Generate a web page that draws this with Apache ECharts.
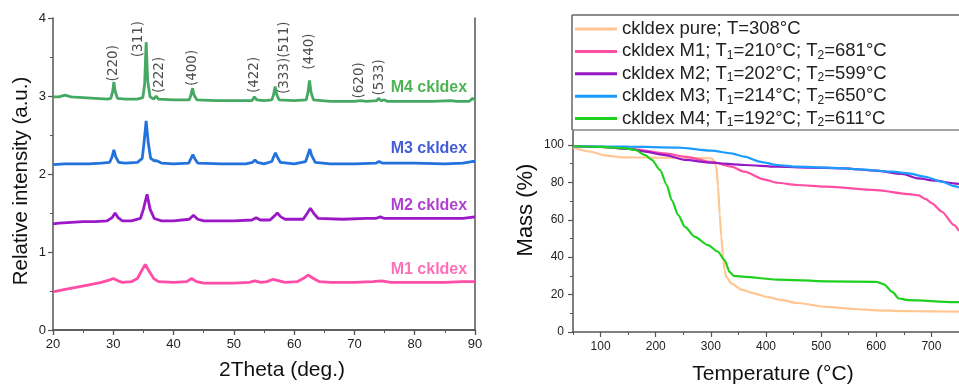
<!DOCTYPE html>
<html>
<head>
<meta charset="utf-8">
<script src="https://cdn.jsdelivr.net/npm/echarts@6/dist/echarts.min.js"></script>
<style>html,body{margin:0;padding:0;background:#fff}#c{width:959px;height:385px}</style>
</head>
<body>
<div id="c"></div>
<script>
// ---------- XRD data (2Theta, relative intensity) ----------
const xrdM4 = [[20,2.99],[21,2.99],[22,3.01],[23,2.99],[25,2.98],[27,2.97],[29,2.96],[29.6,2.97],[29.9,3.06],[30.1,3.18],[30.3,3.06],[30.7,2.97],[32,2.96],[34,2.96],[34.9,2.98],[35.2,3.15],[35.45,3.69],[35.7,3.2],[36.1,2.99],[36.7,2.96],[37.1,3.0],[37.5,2.96],[40,2.95],[42.6,2.95],[42.9,3.02],[43.15,3.1],[43.4,3.01],[43.9,2.95],[47,2.94],[50,2.94],[53,2.94],[53.4,2.99],[53.8,2.95],[55,2.94],[56.3,2.95],[56.6,3.02],[56.85,3.12],[57.1,3.02],[57.5,2.95],[60,2.94],[62.0,2.95],[62.3,3.05],[62.55,3.20],[62.8,3.05],[63.2,2.95],[66,2.93],[70,2.93],[71,2.94],[72,2.93],[73.7,2.94],[74.0,2.97],[74.4,2.94],[75,2.95],[75.5,2.93],[80,2.93],[83,2.93],[86,2.94],[87,2.93],[89,2.93],[89.6,2.97],[90,2.95]];
const xrdM3 = [[20,2.12],[22,2.13],[24,2.13],[26,2.13],[28,2.14],[29.4,2.15],[29.8,2.22],[30.1,2.31],[30.4,2.22],[30.9,2.15],[32,2.14],[34,2.15],[34.8,2.2],[35.1,2.4],[35.45,2.68],[35.8,2.4],[36.2,2.2],[36.8,2.17],[37.2,2.17],[38,2.14],[40,2.13],[42.5,2.14],[42.9,2.2],[43.2,2.25],[43.5,2.2],[44,2.14],[48,2.13],[52,2.13],[53.1,2.15],[53.5,2.18],[53.9,2.15],[55,2.13],[56.3,2.16],[56.6,2.22],[56.9,2.27],[57.2,2.22],[57.7,2.15],[60,2.13],[61.9,2.16],[62.3,2.25],[62.6,2.32],[62.9,2.24],[63.5,2.15],[66,2.13],[70,2.13],[73.6,2.14],[74.1,2.16],[74.6,2.14],[80,2.14],[85,2.13],[88,2.14],[89.5,2.16],[90,2.16]];
const xrdM2 = [[20,1.36],[21,1.37],[23,1.38],[25,1.39],[27,1.39],[29,1.40],[29.8,1.44],[30.3,1.50],[30.8,1.44],[31.5,1.40],[33,1.40],[34.5,1.43],[35.0,1.55],[35.6,1.74],[36.1,1.55],[36.8,1.43],[38,1.40],[40,1.40],[42.6,1.42],[43.3,1.47],[44,1.42],[45,1.40],[50,1.40],[53,1.41],[53.7,1.44],[54.4,1.41],[56,1.41],[56.7,1.46],[57.2,1.50],[57.8,1.45],[58.5,1.42],[61.5,1.42],[62.2,1.50],[62.7,1.56],[63.3,1.49],[64,1.43],[68,1.42],[72,1.43],[73.5,1.43],[74.3,1.45],[75,1.43],[80,1.43],[85,1.43],[88,1.43],[90,1.45]];
const xrdM1 = [[20,0.49],[22,0.52],[24,0.55],[26,0.58],[28,0.61],[29.3,0.64],[30,0.66],[30.8,0.63],[31.5,0.61],[33,0.62],[34,0.66],[34.7,0.76],[35.3,0.84],[35.9,0.76],[36.7,0.66],[37.5,0.62],[40,0.61],[42.2,0.62],[43,0.66],[43.8,0.62],[45,0.60],[50,0.60],[52.5,0.61],[53.5,0.63],[54.5,0.61],[55.5,0.62],[56.5,0.65],[57.5,0.63],[58.5,0.61],[60.5,0.62],[61.5,0.66],[62.3,0.705],[63.2,0.66],[64.2,0.62],[66,0.61],[70,0.61],[73,0.62],[74.5,0.63],[76,0.61],[80,0.61],[85,0.61],[88,0.62],[90,0.62]];
const xrdNames = ['M4 ckldex','M3 ckldex','M2 ckldex','M1 ckldex'];
const xrdNameAnchor = [[88.7,3.11],[88.7,2.33],[88.7,1.60],[88.7,0.77]];
const millerText = ['(220)','(311)','(222)','(400)','(422)','(333)(511)','(440)','(620)','(533)'];
const millerAnchor = [[30.1,3.42],[34.2,3.73],[37.6,3.27],[43.2,3.36],[53.4,3.27],[58.4,3.49],[62.5,3.57],[70.9,3.20],[74.1,3.24]];

// ---------- TGA data (temperature °C, mass %) ----------
const tgaNames = ['ckldex pure; T=308°C','ckldex M1; T1=210°C; T2=681°C','ckldex M2; T1=202°C; T2=599°C','ckldex M3; T1=214°C; T2=650°C','ckldex M4; T1=192°C; T2=611°C'];
const tgaPure = [[50,98.8],[80,96.5],[110,94.3],[140,93.4],[200,93.2],[260,93.1],[301,92.9],[306,91.5],[310,88.4],[313,78],[316,63],[319,51],[322,40],[325,33],[328,29.5],[337,26],[355,22.7],[380,20.5],[402,18.75],[430,17],[456,15.5],[510,13.4],[560,12.3],[600,11.6],[650,11.2],[700,11],[750,10.9]];
const tgaM1 = [[50,99.3],[100,98.9],[163,97.7],[217,95.5],[253,93.75],[301,91],[337,88.4],[361,85.7],[396,81.6],[420,79.8],[456,78.6],[510,77.7],[600,75.9],[659,73.75],[677,73],[690,71],[701,68.75],[719,64.3],[741,57.1],[750,54]];
const tgaM2 = [[50,99.3],[100,99],[152,97.9],[181,96.4],[217,94.6],[253,92],[301,90.5],[361,89.3],[420,88.4],[480,87.9],[540,87.5],[600,86.25],[647,84.5],[677,82.1],[707,80.9],[741,79.5],[750,79.2]];
const tgaM3 = [[50,99.3],[150,99.1],[241,98.6],[301,97],[337,95.5],[361,93.75],[390,91],[420,89.3],[456,88.4],[510,87.9],[570,87],[629,85.7],[659,84.8],[689,83],[719,80.4],[741,78],[750,77.3]];
const tgaM4 = [[50,99.3],[100,99],[145,98.2],[163,97.3],[181,94.6],[193,92],[208,86.6],[220,78.6],[229,70.5],[241,62.5],[253,56.25],[271,50.9],[295,46.4],[313,42.9],[325,38.4],[334,32.1],[341.5,30],[361,29.5],[420,28],[510,27.1],[600,26.8],[614,25.5],[629,21.4],[641,17.9],[659,17],[741,16],[750,16]];

const xTicksRight = [100,200,300,400,500,600,700];
const xMinorRight = [50,150,250,350,450,550,650,750];
const yTicksRight = [0,20,40,60,80,100];
const yMinorRight = [10,30,50,70,90];

const FONT = 'Liberation Sans, Arial, sans-serif';
const AX = '#555';
const chart = echarts.init(document.getElementById('c'));

const xrdColors = ['#45a964','#2272dd','#9a18c8','#ff4da8'];
const xrdLabelColors = ['#21a02b','#1535cc','#9a12c6','#ff4aa6'];
const tgaColors = ['#ffc691','#ff4fa3','#9418c4','#1c9cff','#1fd11f'];
const xrdSets = [xrdM4, xrdM3, xrdM2, xrdM1];
const tgaSets = [tgaPure, tgaM1, tgaM2, tgaM3, tgaM4];

const series = [];
xrdSets.forEach((d, i) => series.push({
  type: 'line', name: xrdNames[i], xAxisIndex: 0, yAxisIndex: 0, data: d,
  showSymbol: false, symbol: 'none', lineStyle: {color: xrdColors[i], width: 2.8}, z: 3
}));
series.push({
  type: 'scatter', xAxisIndex: 0, yAxisIndex: 0, symbolSize: 0, silent: true,
  data: xrdNameAnchor.map((p, i) => ({value: p, label: {color: xrdLabelColors[i], formatter: xrdNames[i]}})),
  label: {show: true, position: 'inside', align: 'right', verticalAlign: 'middle', fontSize: 16, fontWeight: 'bold', fontFamily: FONT}
});
series.push({
  type: 'scatter', xAxisIndex: 0, yAxisIndex: 0, symbolSize: 0, silent: true,
  data: millerAnchor.map((p, i) => ({value: p, label: {formatter: millerText[i]}})),
  label: {show: true, position: 'inside', rotate: 90, align: 'center', verticalAlign: 'middle', fontSize: 13.5, color: '#222', fontFamily: 'DejaVu Sans, sans-serif'}
});
tgaSets.forEach((d, i) => series.push({
  type: 'line', name: tgaNames[i], xAxisIndex: 2, yAxisIndex: 2, data: d,
  showSymbol: false, symbol: 'none', smooth: 0.25, smoothMonotone: 'x',
  lineStyle: {color: tgaColors[i], width: 2.2}, itemStyle: {color: tgaColors[i]}, z: 3 + (i === 0 ? 0 : 1)
}));

const lbl = {color: '#222', fontSize: 13, fontFamily: FONT};
const option = {
  backgroundColor: '#fff',
  animation: false,
  textStyle: {fontFamily: FONT},
  grid: [
    {left: 53, right: 484, top: 18, bottom: 55},
    {left: 573, right: -6, top: 130, bottom: 53}
  ],
  xAxis: [
    {gridIndex: 0, type: 'value', min: 20, max: 90, interval: 10, position: 'bottom',
     axisLine: {lineStyle: {color: AX, width: 1.5}}, axisTick: {length: 5, lineStyle: {color: AX, width: 1.2}},
     minorTick: {show: true, splitNumber: 2, length: 3, lineStyle: {color: AX, width: 1}},
     axisLabel: Object.assign({margin: 8}, lbl), splitLine: {show: false}},
    {gridIndex: 0, type: 'value', min: 20, max: 90, interval: 10, position: 'top',
     axisLine: {lineStyle: {color: AX, width: 1.5}}, axisTick: {inside: true, length: 5, lineStyle: {color: AX, width: 1.2}},
     minorTick: {show: true, splitNumber: 2, length: 3, lineStyle: {color: AX, width: 1}},
     axisLabel: {show: false}, splitLine: {show: false}},
    {gridIndex: 1, type: 'value', min: 50, max: 750, position: 'bottom',
     axisLine: {lineStyle: {color: AX, width: 1.5}},
     axisTick: {customValues: xTicksRight, length: 5, lineStyle: {color: AX, width: 1.2}},
     axisLabel: Object.assign({customValues: xTicksRight, margin: 9}, lbl, {fontSize: 12}), splitLine: {show: false}},
    {gridIndex: 1, type: 'value', min: 50, max: 750, position: 'bottom',
     axisLine: {show: false},
     axisTick: {customValues: xMinorRight, length: 3, lineStyle: {color: AX, width: 1}},
     axisLabel: {show: false}, splitLine: {show: false}},
    {gridIndex: 1, type: 'value', min: 50, max: 750, position: 'top',
     axisLine: {lineStyle: {color: '#888', width: 1.5}}, axisTick: {show: false}, axisLabel: {show: false}, splitLine: {show: false}}
  ],
  yAxis: [
    {gridIndex: 0, type: 'value', min: 0, max: 4, interval: 1, position: 'left',
     axisLine: {show: true, lineStyle: {color: AX, width: 1.5}}, axisTick: {show: true, length: 5, lineStyle: {color: AX, width: 1.2}},
     minorTick: {show: true, splitNumber: 2, length: 3, lineStyle: {color: AX, width: 1}},
     axisLabel: Object.assign({margin: 7}, lbl), splitLine: {show: false}},
    {gridIndex: 0, type: 'value', min: 0, max: 4, position: 'right',
     axisLine: {show: true, lineStyle: {color: AX, width: 1.5}}, axisTick: {show: false}, axisLabel: {show: false}, splitLine: {show: false}},
    {gridIndex: 1, type: 'value', min: 0, max: 108, position: 'left',
     axisLine: {show: true, lineStyle: {color: AX, width: 1.5}},
     axisTick: {show: true, customValues: yTicksRight, length: 5, lineStyle: {color: AX, width: 1.2}},
     axisLabel: Object.assign({customValues: yTicksRight, margin: 9}, lbl, {fontSize: 12}), splitLine: {show: false}},
    {gridIndex: 1, type: 'value', min: 0, max: 108, position: 'left',
     axisLine: {show: false},
     axisTick: {show: true, customValues: yMinorRight, length: 3, lineStyle: {color: AX, width: 1}},
     axisLabel: {show: false}, splitLine: {show: false}}
  ],
  legend: {
    data: tgaNames, orient: 'vertical', left: 575, top: 19, padding: 0, itemWidth: 42, itemHeight: 3, itemGap: 2.4,
    icon: 'rect', selectedMode: false,
    formatter: n => n.replace(/T([12])=/g, 'T{sub|$1}='),
    textStyle: {fontSize: 18.5, color: '#222', fontFamily: FONT, lineHeight: 20,
      rich: {sub: {fontSize: 12, lineHeight: 9, verticalAlign: 'bottom', color: '#222', fontFamily: FONT}}}
  },
  graphic: [
    {type: 'line', shape: {x1: 572, y1: 15, x2: 959, y2: 15}, style: {stroke: '#666', lineWidth: 1.5}},
    {type: 'line', shape: {x1: 572, y1: 15, x2: 572, y2: 130}, style: {stroke: '#666', lineWidth: 1.5}},
    {type: 'text', x: 21, y: 181, rotation: Math.PI / 2, style: {text: 'Relative intensity (a.u.)', font: '20.5px ' + FONT, fill: '#111', align: 'center', verticalAlign: 'middle'}},
    {type: 'text', x: 282, y: 370, style: {text: '2Theta (deg.)', font: '21px ' + FONT, fill: '#111', align: 'center', verticalAlign: 'middle'}},
    {type: 'text', x: 526, y: 210, rotation: Math.PI / 2, style: {text: 'Mass (%)', font: '22px ' + FONT, fill: '#111', align: 'center', verticalAlign: 'middle'}},
    {type: 'text', x: 773, y: 374, style: {text: 'Temperature (°C)', font: '21px ' + FONT, fill: '#111', align: 'center', verticalAlign: 'middle'}}
  ],
  series: series
};
chart.setOption(option);
</script>
</body>
</html>
